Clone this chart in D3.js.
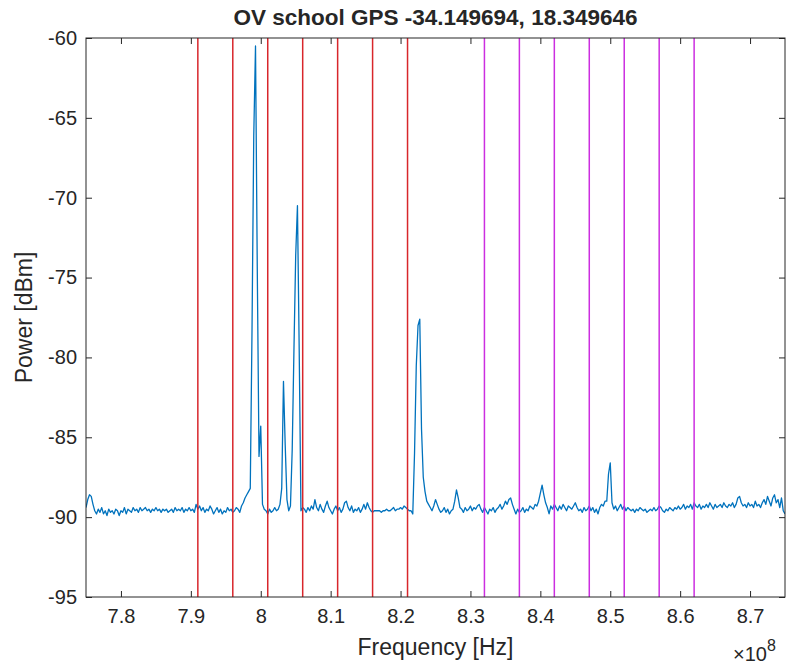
<!DOCTYPE html>
<html><head><meta charset="utf-8">
<script src="https://cdn.jsdelivr.net/npm/d3@7"></script>
<style>
body{margin:0;background:#fff;}
svg text{font-family:"Liberation Sans",Arial,sans-serif;fill:#262626;}
</style>
</head><body>
<svg id="chart" width="787" height="665"></svg>
<script>
const chartTitle = "OV school GPS -34.149694, 18.349646";
const xLabel = "Frequency [Hz]";
const yLabel = "Power [dBm]";
const xTicks = [7.8, 7.9, 8.0, 8.1, 8.2, 8.3, 8.4, 8.5, 8.6, 8.7];
const xTickLabels = ["7.8", "7.9", "8", "8.1", "8.2", "8.3", "8.4", "8.5", "8.6", "8.7"];
const yTicks = [-95, -90, -85, -80, -75, -70, -65, -60];
const yTickLabels = ["-95", "-90", "-85", "-80", "-75", "-70", "-65", "-60"];
const redLines = [7.91, 7.96, 8.01, 8.06, 8.11, 8.16, 8.21];
const magentaLines = [8.32, 8.37, 8.42, 8.47, 8.52, 8.57, 8.62];
// spectrum: frequency in units of 1e8 Hz, starting 7.75, step 0.0025
const freqStart = 7.75;
const freqStep = 0.0025;
const power = [
-89.4,-88.9,-88.6,-88.7,-89.2,-89.6,-89.8,-89.5,-89.7,-89.4,
-89.8,-89.6,-89.9,-89.5,-89.7,-89.6,-89.8,-89.5,-89.6,-89.9,
-89.6,-89.7,-89.4,-89.8,-89.5,-89.6,-89.7,-89.4,-89.6,-89.5,
-89.7,-89.4,-89.6,-89.5,-89.4,-89.6,-89.5,-89.7,-89.5,-89.6,
-89.4,-89.6,-89.5,-89.7,-89.5,-89.6,-89.5,-89.7,-89.6,-89.5,
-89.7,-89.4,-89.6,-89.5,-89.6,-89.4,-89.7,-89.5,-89.6,-89.4,
-89.6,-89.5,-89.7,-89.2,-89.5,-89.3,-89.6,-89.4,-89.7,-89.5,
-89.6,-89.3,-89.5,-89.8,-89.6,-89.4,-89.7,-89.5,-89.8,-89.6,
-89.7,-89.4,-89.6,-89.5,-89.7,-89.6,-89.4,-89.5,-89.7,-89.3,
-89.1,-88.8,-88.6,-88.4,-88.2,-78.3,-66.1,-60.5,-74.3,-86.2,
-84.3,-89.2,-89.5,-89.6,-89.8,-89.5,-89.7,-89.6,-89.4,-89.6,
-89.5,-89.2,-88.2,-81.5,-85.5,-88.9,-89.6,-89.3,-85.8,-79.5,
-73.6,-70.5,-79.5,-89.6,-89.4,-89.5,-89.7,-89.4,-89.6,-89.3,
-89.5,-88.9,-89.4,-89.6,-89.2,-89.5,-89.7,-89.3,-89.0,-89.4,
-89.6,-89.8,-89.5,-89.3,-89.6,-89.4,-89.7,-89.5,-89.1,-89.0,
-89.4,-89.6,-89.3,-89.7,-89.5,-89.6,-89.4,-89.7,-89.5,-89.2,
-89.5,-89.1,-89.4,-89.6,-89.7,-89.6,-89.6,-89.6,-89.6,-89.7,
-89.6,-89.6,-89.5,-89.6,-89.6,-89.5,-89.4,-89.6,-89.5,-89.5,
-89.4,-89.5,-89.3,-89.4,-89.5,-89.6,-89.6,-89.8,-86.0,-80.5,
-78.0,-77.6,-84.5,-87.5,-88.4,-89.0,-89.2,-89.4,-89.6,-89.3,
-88.9,-89.2,-89.5,-89.7,-89.6,-89.4,-89.7,-89.5,-89.8,-89.6,
-89.5,-89.0,-88.3,-88.8,-89.4,-89.5,-89.7,-89.4,-89.6,-89.5,
-89.3,-89.6,-89.4,-89.5,-89.3,-89.2,-89.5,-89.7,-89.4,-89.6,
-89.8,-89.5,-89.6,-89.4,-89.7,-89.5,-89.4,-89.2,-89.5,-89.3,
-89.0,-89.2,-88.9,-88.8,-89.2,-89.5,-89.8,-89.5,-89.7,-89.6,
-89.4,-89.7,-89.5,-89.6,-89.3,-89.4,-89.5,-89.2,-89.3,-89.0,
-88.5,-88.0,-88.6,-89.1,-89.4,-89.8,-89.3,-89.5,-89.2,-89.4,
-89.6,-89.3,-89.5,-89.2,-89.4,-89.6,-89.3,-89.4,-89.5,-89.3,
-89.1,-89.4,-89.6,-89.5,-89.7,-89.4,-89.6,-89.5,-89.3,-89.6,
-89.4,-89.7,-89.5,-89.8,-89.4,-89.2,-89.3,-89.0,-89.0,-87.3,
-86.6,-89.1,-89.5,-89.3,-89.6,-89.4,-89.2,-89.5,-89.3,-89.6,
-89.4,-89.5,-89.6,-89.5,-89.7,-89.5,-89.6,-89.4,-89.5,-89.6,
-89.5,-89.7,-89.6,-89.5,-89.6,-89.4,-89.6,-89.5,-89.3,-89.4,
-89.6,-89.7,-89.5,-89.6,-89.4,-89.5,-89.6,-89.4,-89.5,-89.3,
-89.5,-89.4,-89.2,-89.5,-89.3,-89.4,-89.2,-89.5,-89.1,-89.3,
-89.4,-89.2,-89.5,-89.3,-89.4,-89.2,-89.4,-89.1,-89.3,-89.5,
-89.2,-89.4,-89.3,-89.2,-89.4,-89.1,-89.3,-89.4,-89.2,-89.3,
-89.1,-89.4,-89.2,-88.8,-88.7,-89.1,-89.3,-89.2,-89.4,-89.1,
-89.3,-89.2,-89.4,-89.0,-89.3,-89.2,-89.4,-89.1,-88.9,-89.2,
-88.7,-89.0,-89.3,-88.8,-88.6,-89.1,-88.9,-89.4,-88.8,-89.6,
-89.8
];
const spectrum = power.map((p, i) => ({f: freqStart + i * freqStep, p: p}));

const W = 787, H = 665;
const m = {left: 86, top: 38, right: 2, bottom: 68};
const iw = W - m.left - m.right, ih = H - m.top - m.bottom;
const svg = d3.select("#chart");
const g = svg.append("g").attr("transform", `translate(${m.left},${m.top})`);

const x = d3.scaleLinear().domain([7.75, 8.75]).range([0, iw]);
const y = d3.scaleLinear().domain([-95, -60]).range([ih, 0]);

g.append("rect").attr("width", iw).attr("height", ih).attr("fill", "#fff");
g.append("clipPath").attr("id", "clip").append("rect").attr("width", iw).attr("height", ih);

const plot = g.append("g").attr("clip-path", "url(#clip)");
plot.append("path").datum(spectrum)
  .attr("fill", "none").attr("stroke", "#0072BD").attr("stroke-width", 1.3)
  .attr("stroke-linejoin", "round")
  .attr("d", d3.line().x(d => x(d.f)).y(d => y(d.p)));

plot.selectAll(".red").data(redLines).enter().append("line")
  .attr("x1", d => x(d)).attr("x2", d => x(d)).attr("y1", 0).attr("y2", ih)
  .attr("stroke", "#d8262b").attr("stroke-width", 1.5);
plot.selectAll(".mag").data(magentaLines).enter().append("line")
  .attr("x1", d => x(d)).attr("x2", d => x(d)).attr("y1", 0).attr("y2", ih)
  .attr("stroke", "#cc2ee0").attr("stroke-width", 1.5);

const tickLen = 6;
const fmtX = d => xTickLabels[xTicks.indexOf(d)];
const fmtY = d => yTickLabels[yTicks.indexOf(d)];
const axB = g.append("g").attr("transform", `translate(0,${ih})`)
  .call(d3.axisBottom(x).tickValues(xTicks).tickSize(-tickLen).tickPadding(12).tickFormat(fmtX));
const axT = g.append("g")
  .call(d3.axisTop(x).tickValues(xTicks).tickSize(-tickLen).tickFormat(""));
const axL = g.append("g")
  .call(d3.axisLeft(y).tickValues(yTicks).tickSize(-tickLen).tickPadding(9).tickFormat(fmtY));
const axR = g.append("g").attr("transform", `translate(${iw},0)`)
  .call(d3.axisRight(y).tickValues(yTicks).tickSize(-tickLen).tickFormat(""));
[axB, axT, axL, axR].forEach(a => {
  a.select(".domain").remove();
  a.selectAll(".tick line").attr("stroke", "#262626").attr("stroke-width", 1);
  a.selectAll(".tick text").attr("font-size", 20).attr("fill", "#262626")
    .attr("font-family", "'Liberation Sans', Arial, sans-serif");
});
g.append("rect").attr("width", iw).attr("height", ih)
  .attr("fill", "none").attr("stroke", "#262626").attr("stroke-width", 1);

svg.append("text").attr("x", m.left + iw / 2).attr("y", 25)
  .attr("text-anchor", "middle").attr("font-weight", "bold").attr("font-size", 22.5)
  .attr("fill", "#000").text(chartTitle);
svg.append("text").attr("x", m.left + iw / 2).attr("y", 655)
  .attr("text-anchor", "middle").attr("font-size", 23).text(xLabel);
svg.append("text").attr("transform", `translate(32,${m.top + ih / 2}) rotate(-90)`)
  .attr("text-anchor", "middle").attr("font-size", 23).text(yLabel);
const ex = svg.append("text").attr("x", 733).attr("y", 661).attr("font-size", 20);
ex.append("tspan").text("\u00d7");
ex.append("tspan").text("10");
ex.append("tspan").attr("dy", -10).attr("font-size", 16).text("8");
</script>
</body></html>
